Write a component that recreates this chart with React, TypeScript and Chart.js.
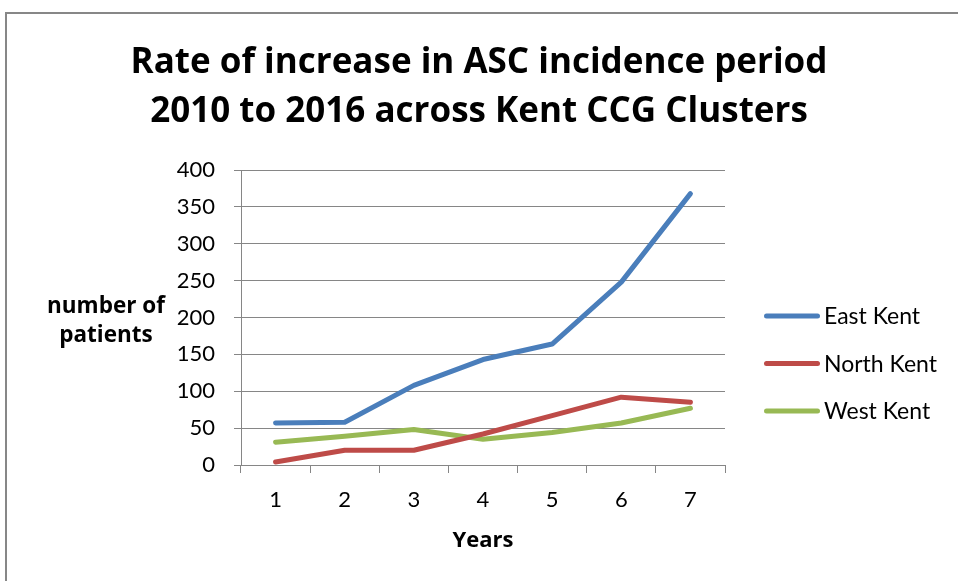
import React, { useEffect, useRef } from "react";
import { Chart, registerables } from "chart.js";

Chart.register(...registerables);

const titleLines = [
  "Rate of increase in ASC incidence period",
  "2010 to 2016 across Kent CCG Clusters",
];
const years = ["1", "2", "3", "4", "5", "6", "7"];
const eastKent = [57, 58, 108, 143, 164, 248, 368];
const northKent = [4, 20, 20, 42, 67, 92, 85];
const westKent = [31, 39, 48, 35, 44, 57, 77];
const seriesNames = ["East Kent", "North Kent", "West Kent"];
const seriesColors = ["#4A7EBB", "#BE4B48", "#98B954"];
const yMin = 0;
const yMax = 400;
const yStep = 50;
const yTitleLines = ["number of", "patients"];
const xTitle = "Years";

const FONT = "Lato, 'Open Sans', sans-serif";
const BOLD_FONT = "'Open Sans', Lato, sans-serif";
const GRID = "#868686";

const framePlugin = {
  id: "frame",
  beforeDraw(chart: any) {
    const { ctx, width, height } = chart;
    ctx.save();
    ctx.fillStyle = "#ffffff";
    ctx.fillRect(0, 0, width, height);
    ctx.strokeStyle = "#878787";
    ctx.lineWidth = 2;
    ctx.beginPath();
    ctx.moveTo(6, height);
    ctx.lineTo(6, 13);
    ctx.lineTo(width, 13);
    ctx.stroke();
    ctx.restore();
  },
};

const extrasPlugin = {
  id: "extras",
  afterDraw(chart: any) {
    const { ctx, chartArea } = chart;
    ctx.save();
    // y-axis title (horizontal, two lines)
    ctx.fillStyle = "#000";
    ctx.font = `bold 22.5px ${BOLD_FONT}`;
    ctx.textAlign = "center";
    ctx.textBaseline = "alphabetic";
    const cx = chartArea.left - 135;
    const cy = (chartArea.top + chartArea.bottom) / 2;
    ctx.fillText(yTitleLines[0], cx, cy - 5);
    ctx.fillText(yTitleLines[1], cx, cy + 24);
    // legend
    ctx.font = `23px ${FONT}`;
    ctx.textAlign = "left";
    ctx.textBaseline = "middle";
    chart.data.datasets.forEach((ds: any, i: number) => {
      const y = chartArea.top + 146 + i * 47.5;
      ctx.strokeStyle = ds.borderColor;
      ctx.lineWidth = 5;
      ctx.lineCap = "round";
      ctx.beginPath();
      ctx.moveTo(chartArea.right + 41.5, y);
      ctx.lineTo(chartArea.right + 92.5, y);
      ctx.stroke();
      ctx.fillStyle = "#000";
      ctx.fillText(ds.label, chartArea.right + 99, y + 1);
    });
    ctx.restore();
  },
};

export default function App() {
  const ref = useRef<HTMLCanvasElement | null>(null);

  useEffect(() => {
    document.body.style.margin = "0";
    if (!ref.current) return;
    const seriesData = [eastKent, northKent, westKent];
    const chart = new Chart(ref.current, {
      type: "line",
      data: {
        labels: years,
        datasets: seriesData.map((d, i) => ({
          label: seriesNames[i],
          data: d,
          borderColor: seriesColors[i],
          backgroundColor: seriesColors[i],
          borderWidth: 5,
          borderCapStyle: "round",
          borderJoinStyle: "round",
          pointRadius: 0,
          pointHoverRadius: 0,
          tension: 0,
          fill: false,
        })),
      },
      options: {
        responsive: false,
        animation: false,
        devicePixelRatio: 1,
        layout: { padding: 0 },
        plugins: {
          legend: { display: false },
          tooltip: { enabled: false },
          title: {
            display: true,
            text: titleLines,
            color: "#000",
            font: { family: BOLD_FONT, size: 35, weight: "bold", lineHeight: 1.4 },
            padding: { top: 38.5, bottom: 33.5 },
          },
        },
        scales: {
          x: {
            type: "category",
            offset: true,
            grid: {
              display: true,
              drawOnChartArea: false,
              drawTicks: true,
              tickLength: 8,
              color: GRID,
              offset: true,
            },
            border: { display: true, color: GRID, width: 1 },
            ticks: {
              color: "#000",
              font: { family: FONT, size: 22 },
              padding: 14,
            },
            title: {
              display: true,
              text: xTitle,
              color: "#000",
              font: { family: BOLD_FONT, size: 22, weight: "bold" },
              padding: { top: 0, bottom: 27 },
            },
            afterFit: (scale: any) => {
              scale.height = 116;
            },
          },
          y: {
            min: yMin,
            max: yMax,
            ticks: {
              stepSize: yStep,
              color: "#000",
              font: { family: FONT, size: 22 },
              padding: 19,
            },
            grid: {
              color: GRID,
              tickLength: 7,
              drawTicks: true,
            },
            border: { display: true, color: GRID, width: 1 },
            afterFit: (scale: any) => {
              scale.width = 241;
            },
          },
          legendSpace: {
            type: "linear",
            position: "right",
            display: true,
            grid: { display: false, drawTicks: false },
            ticks: { display: false },
            border: { display: false },
            afterFit: (scale: any) => {
              scale.width = 233;
            },
          },
        },
      },
      plugins: [framePlugin, extrasPlugin],
    });
    return () => chart.destroy();
  }, []);

  return (
    <div style={{ position: "absolute", left: 0, top: 0, width: 958, height: 581 }}>
      <canvas ref={ref} width={958} height={581} style={{ display: "block" }} />
    </div>
  );
}
